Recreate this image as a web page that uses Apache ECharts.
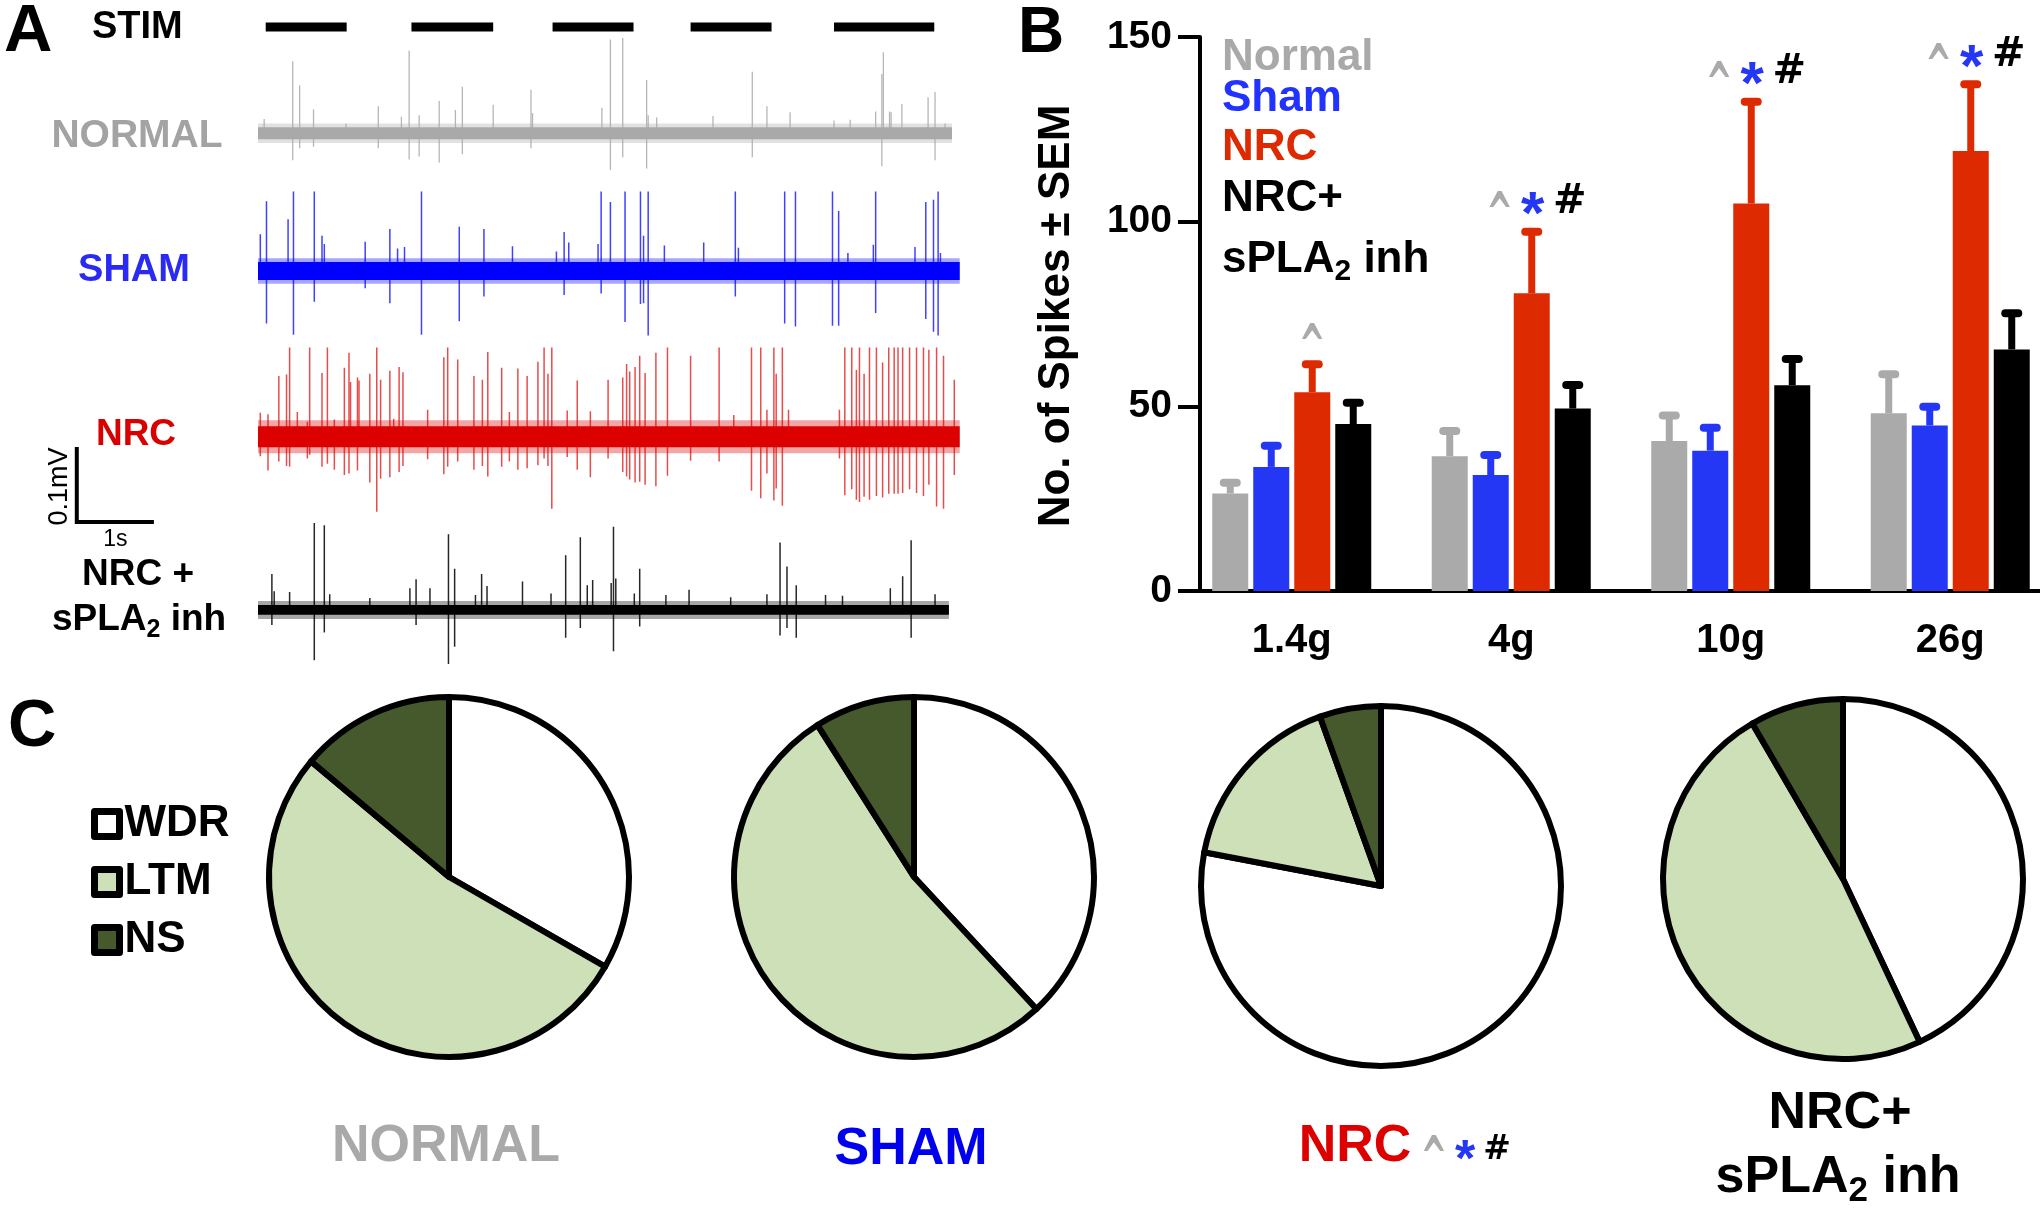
<!DOCTYPE html>
<html><head><meta charset="utf-8">
<script src="https://cdn.jsdelivr.net/npm/echarts@6/dist/echarts.min.js"></script>
<style>html,body{margin:0;padding:0;background:#fff}#c{width:2040px;height:1219px}</style>
</head><body><div id="c"></div>
<script>
const FONT = '"Liberation Sans", Arial, Helvetica, sans-serif';
const SYMFONT = '"DejaVu Sans", "Liberation Sans", sans-serif';

// ---------- Panel A: extracellular recordings (time in s, amplitude in µV) ----------
const stimOn = [[0.10, 1.15], [1.99, 3.05], [3.82, 4.87], [5.61, 6.66], [7.47, 8.77]];
const traceNames = ['NORMAL', 'SHAM', 'NRC', 'NRC +'];
const traceDuration = [9.0, 9.1, 9.1, 8.96];
const noiseNormal = [8, 13];
const noiseSham = [12, 17];
const noiseNRC = [14, 22];
const noiseNRCinh = [6.5, 12];
// spikes: [time s, upward peak µV, downward peak µV]
const spikesNormal = [[0.08,19,0],[0.45,96,36],[0.54,64,20],[0.72,32,18],[1.14,13,0],[1.56,36,20],[1.86,22,0],[1.96,110,35],[2.09,24,31],[2.35,43,39],[2.56,31,0],[2.65,62,28],[3.05,38,0],[3.54,58,20],[3.56,27,0],[4.46,34,0],[4.57,125,49],[4.73,127,32],[5.04,71,47],[5.06,24,0],[5.17,21,0],[5.90,23,0],[6.41,82,32],[6.60,36,0],[6.90,28,0],[7.47,17,0],[7.68,18,0],[8.01,29,0],[8.09,79,44],[8.11,108,0],[8.19,29,0],[8.21,28,0],[8.35,39,0],[8.69,48,0],[8.78,55,36],[8.91,13,0]];
const spikesSham = [[0.03,49,0],[0.11,93,70],[0.39,69,0],[0.46,106,85],[0.73,106,41],[0.83,47,0],[0.86,36,0],[1.39,39,23],[1.71,56,43],[1.81,30,0],[1.90,32,0],[2.12,106,85],[2.61,59,67],[2.93,56,34],[3.30,33,0],[3.87,26,0],[3.97,52,32],[4.03,38,0],[4.41,36,0],[4.45,106,30],[4.57,92,0],[4.76,106,68],[4.96,106,44],[5.00,47,43],[5.06,106,86],[5.27,34,0],[5.78,38,0],[6.19,106,34],[6.23,31,0],[6.83,106,70],[6.97,106,74],[7.45,106,73],[7.53,80,73],[7.65,24,0],[7.98,35,0],[8.01,106,56],[8.52,32,0],[8.66,92,64],[8.76,95,81],[8.82,106,86],[8.85,24,0]];
const spikesNRC = [[0.03,32,26],[0.13,30,45],[0.27,81,33],[0.37,83,39],[0.41,119,40],[0.51,33,0],[0.64,20,29],[0.67,119,24],[0.83,85,40],[0.90,119,36],[0.99,23,44],[1.12,92,51],[1.18,112,49],[1.20,73,0],[1.29,79,45],[1.31,75,0],[1.45,84,61],[1.54,119,100],[1.59,76,56],[1.71,88,54],[1.76,24,0],[1.83,93,47],[1.88,86,39],[2.20,36,30],[2.41,106,50],[2.46,119,40],[2.59,103,33],[2.80,81,44],[2.91,76,39],[2.98,113,53],[3.16,92,40],[3.26,33,33],[3.37,91,44],[3.49,81,42],[3.63,100,38],[3.71,119,29],[3.76,84,39],[3.81,119,96],[4.01,35,27],[4.14,75,44],[4.31,34,54],[4.54,76,29],[4.73,79,47],[4.78,97,53],[4.82,87,57],[4.89,93,61],[4.95,108,60],[5.02,85,64],[5.16,112,66],[5.31,119,52],[5.61,108,32],[5.98,119,33],[6.17,29,0],[6.40,119,72],[6.52,119,82],[6.60,36,49],[6.69,119,85],[6.72,84,69],[6.80,119,92],[6.88,36,0],[7.54,36,29],[7.61,119,78],[7.70,119,70],[7.76,89,84],[7.80,119,87],[7.86,84,80],[7.93,119,84],[8.02,119,79],[8.10,99,81],[8.18,119,76],[8.25,119,76],[8.30,119,76],[8.36,119,75],[8.45,119,70],[8.54,119,75],[8.63,119,79],[8.70,116,64],[8.80,119,93],[8.89,108,96],[9.03,76,51]];
const spikesNRCinh = [[0.18,48,20],[0.21,25,0],[0.41,24,0],[0.73,116,67],[0.86,113,30],[0.93,21,0],[1.45,16,0],[1.97,29,0],[2.05,41,20],[2.23,29,0],[2.47,101,72],[2.55,55,49],[2.82,20,0],[2.90,48,0],[2.97,32,0],[3.43,38,0],[3.80,22,0],[3.99,73,37],[4.18,97,24],[4.27,33,0],[4.34,40,0],[4.58,36,0],[4.61,111,55],[4.64,42,0],[4.88,22,0],[4.95,55,22],[5.29,20,0],[5.59,27,0],[6.13,17,0],[6.60,21,0],[6.77,90,34],[6.86,58,24],[6.98,33,37],[7.36,20,0],[7.58,19,0],[8.20,29,0],[8.36,45,0],[8.47,93,37],[8.78,21,0]];
const scaleBarLen = [1, 100]; // 1 s, 100 µV (0.1 mV)
const scaleBarLabels = ['1s', '0.1mV'];

// ---------- Panel B: spikes per stimulus ----------
const forces = ['1.4g', '4g', '10g', '26g'];
const groupNames = ['Normal', 'Sham', 'NRC', 'NRC+'];
const meanNormal = [26.4, 36.5, 40.6, 48.1];
const semNormal = [2.9, 6.8, 6.9, 10.6];
const meanSham = [33.6, 31.4, 38.0, 44.8];
const semSham = [5.7, 5.4, 6.2, 5.1];
const meanNRC = [53.8, 80.6, 104.9, 119.1];
const semNRC = [7.6, 16.7, 27.6, 18.1];
const meanNRCinh = [45.2, 49.4, 55.7, 65.4];
const semNRCinh = [5.8, 6.4, 7.1, 9.8];
const sigMarks = [['^'], ['^', '*', '#'], ['^', '*', '#'], ['^', '*', '#']];

// ---------- Panel C: neuron classification (%) ----------
const cellTypes = ['WDR', 'LTM', 'NS'];
const pieNormal = [33.3, 52.8, 13.9];
const pieSham = [38.1, 52.9, 9.0];
const pieNRC = [78.0, 16.5, 5.5];
const pieNRCinh = [43.0, 48.6, 8.4];

// ---------- styling ----------
const GRAY = '#aaaaaa', BLUE = '#2437f5', RED = '#dd2a00';
const barColors = [GRAY, BLUE, RED, '#000000'];
const traceColors = ['#a9a9a9', '#0000ff', '#dd0000', '#000000'];
const pieColors = ['#ffffff', '#cee0b8', '#46592d'];
const baselines = [-177.7, -361.3, -582.3, -813.3]; // vertical placement of traces (µV offsets)
const BAR_W = 36, BAR_GAP = 5;

function bandSeries(k, noise) {
  const off = baselines[k], col = traceColors[k];
  return {type: 'custom', xAxisIndex: 0, yAxisIndex: 0, silent: true, z: 2,
    data: [[0, traceDuration[k], noise[0], noise[1]]],
    renderItem(p, api) {
      const t0 = api.value(0), t1 = api.value(1), n1 = api.value(2), n2 = api.value(3);
      const a = api.coord([t0, off + n2]), b = api.coord([t1, off - n2]);
      const c = api.coord([t0, off + n1]), d = api.coord([t1, off - n1]);
      return {type: 'group', children: [
        {type: 'rect', shape: {x: a[0], y: a[1], width: b[0] - a[0], height: b[1] - a[1]}, style: {fill: col, opacity: 0.35}},
        {type: 'rect', shape: {x: c[0], y: c[1], width: d[0] - c[0], height: d[1] - c[1]}, style: {fill: col}}
      ]};
    }};
}
function spikeSeries(k, spikes, lw, op) {
  const off = baselines[k], col = traceColors[k];
  return {type: 'custom', xAxisIndex: 0, yAxisIndex: 0, silent: true, z: 3,
    data: spikes,
    renderItem(p, api) {
      const t = api.value(0), up = api.value(1), dn = api.value(2);
      const p1 = api.coord([t, off + up]), p2 = api.coord([t, off - dn]);
      return {type: 'line', shape: {x1: p1[0], y1: p1[1], x2: p2[0], y2: p2[1]}, style: {stroke: col, lineWidth: lw, opacity: op}};
    }};
}
const stimSeries = {type: 'custom', xAxisIndex: 0, yAxisIndex: 0, silent: true, z: 3,
  data: stimOn,
  renderItem(p, api) {
    const a = api.coord([api.value(0), -36]), b = api.coord([api.value(1), -36]);
    return {type: 'rect', shape: {x: a[0], y: a[1] - 4.5, width: b[0] - a[0], height: 9}, style: {fill: '#000'}};
  }};
const scaleSeries = {type: 'custom', xAxisIndex: 0, yAxisIndex: 0, silent: true, z: 3,
  data: [[-2.35, -696, scaleBarLen[0], scaleBarLen[1]]],
  renderItem(p, api) {
    const t0 = api.value(0), v0 = api.value(1), dt = api.value(2), dv = api.value(3);
    const o = api.coord([t0, v0]), top = api.coord([t0, v0 + dv]), r = api.coord([t0 + dt, v0]);
    return {type: 'group', children: [
      {type: 'polyline', shape: {points: [top, o, r]}, style: {stroke: '#000', lineWidth: 4, fill: null}},
      {type: 'text', x: (o[0] + r[0]) / 2, y: o[1] + 18, style: {text: scaleBarLabels[0], fontSize: 23, fontFamily: FONT, fill: '#000', align: 'center', verticalAlign: 'middle'}},
      {type: 'text', x: o[0] - 17, y: (o[1] + top[1]) / 2 + 2, rotation: Math.PI / 2, style: {text: scaleBarLabels[1], fontSize: 27, fontFamily: FONT, fill: '#000', align: 'center', verticalAlign: 'middle'}}
    ]};
  }};

// Panel B series
const means = [meanNormal, meanSham, meanNRC, meanNRCinh];
const sems = [semNormal, semSham, semNRC, semNRCinh];
const barSeries = means.map((m, si) => ({
  type: 'bar', name: groupNames[si], xAxisIndex: 1, yAxisIndex: 1, data: m, silent: true, z: 3,
  barWidth: BAR_W, barGap: (BAR_GAP / BAR_W * 100).toFixed(1) + '%', itemStyle: {color: barColors[si]}
}));
const errSeries = means.map((m, si) => ({
  type: 'custom', xAxisIndex: 1, yAxisIndex: 1, silent: true, z: 4,
  data: m.map((v, i) => [i, v, v + sems[si][i]]),
  renderItem(p, api) {
    const i = api.value(0);
    const base = api.coord([i, api.value(1)]), top = api.coord([i, api.value(2)]);
    const x = base[0] + (si - 1.5) * (BAR_W + BAR_GAP);
    const col = barColors[si];
    return {type: 'group', children: [
      {type: 'line', shape: {x1: x, y1: base[1], x2: x, y2: top[1]}, style: {stroke: col, lineWidth: 7}},
      {type: 'line', shape: {x1: x - 6.5, y1: top[1], x2: x + 6.5, y2: top[1]}, style: {stroke: col, lineWidth: 8, lineCap: 'round'}}
    ]};
  }}));
const markStyle = {
  '^': {fill: GRAY, size: 40, dy: 16, font: SYMFONT, sx: 0.8, sy: 1.45},
  '*': {fill: BLUE, size: 60, dy: 14, font: FONT, sx: 1, sy: 1},
  '#': {fill: '#000', size: 40, dy: 0, font: SYMFONT, sx: 1, sy: 1}
};
const sigSeries = {type: 'custom', xAxisIndex: 1, yAxisIndex: 1, silent: true, z: 5,
  data: meanNRC.map((v, i) => [i, v + semNRC[i]]),
  renderItem(p, api) {
    const i = api.value(0);
    const top = api.coord([i, api.value(1)]);
    const x = top[0] + 0.5 * (BAR_W + BAR_GAP);
    const marks = sigMarks[i];
    const dxs = marks.length === 1 ? [0] : [-32, 1, 38];
    return {type: 'group', children: marks.map((m, j) => ({
      type: 'text', x: x + dxs[j], y: top[1] - 29 + markStyle[m].dy, scaleX: markStyle[m].sx, scaleY: markStyle[m].sy,
      style: {text: m, fontSize: markStyle[m].size, fontWeight: 'bold', fontFamily: markStyle[m].font, fill: markStyle[m].fill, align: 'center', verticalAlign: 'middle'}
    }))};
  }};

// Panel C pies
const pieData = [pieNormal, pieSham, pieNRC, pieNRCinh];
const pieCenters = [[449, 877], [914, 877], [1381, 886], [1843, 879]];
const pieSeries = pieData.map((d, k) => ({
  type: 'pie', center: pieCenters[k], radius: 180, startAngle: 90, clockwise: true, silent: true,
  label: {show: false}, labelLine: {show: false}, emphasis: {disabled: true},
  itemStyle: {borderColor: '#000', borderWidth: 6},
  data: cellTypes.map((n, i) => ({name: n, value: d[i], itemStyle: {color: pieColors[i]}}))
}));

// ---------- text ----------
function T(text, x, y, size, fill, align, extra, font) {
  return Object.assign({type: 'text', x: x, y: y, silent: true, z: 10,
    style: {text: text, fontSize: size, fontWeight: 'bold', fontFamily: font || FONT, fill: fill, align: align || 'center', verticalAlign: 'middle'}}, extra || {});
}
function sub(textA, sub2, textB, x, y, size, fill, align) {
  return {type: 'text', x: x, y: y, silent: true, z: 10,
    style: {text: '{a|' + textA + '}{b|' + sub2 + '}{a|' + textB + '}', align: align || 'center', verticalAlign: 'middle',
      rich: {
        a: {fontSize: size, fontWeight: 'bold', fontFamily: FONT, fill: fill, verticalAlign: 'bottom', padding: [0, 0, 5, 0]},
        b: {fontSize: Math.round(size * 0.68), fontWeight: 'bold', fontFamily: FONT, fill: fill, verticalAlign: 'bottom'}
      }}};
}
const graphics = [
  T('A', 4, 33, 67, '#000', 'left'),
  T('STIM', 92, 28, 38, '#000', 'left'),
  T(traceNames[0], 137, 136, 39, '#a3a3a3'),
  T(traceNames[1], 134, 271, 38, '#2a2af2'),
  T(traceNames[2], 136, 435, 37, '#d80000'),
  T(traceNames[3], 138, 575, 37, '#000'),
  sub('sPLA', '2', ' inh', 139, 622, 37, '#000'),
  T('B', 1018, 34, 64, '#000', 'left'),
  T('No. of Spikes ± SEM', 1057, 316, 44, '#000', 'center', {rotation: Math.PI / 2}),
  T('Normal', 1222, 58, 44, '#a9a9a9', 'left'),
  T('Sham', 1222, 99, 44, '#2233ff', 'left'),
  T('NRC', 1222, 148, 44, RED, 'left'),
  T('NRC+', 1222, 199, 44, '#000', 'left'),
  sub('sPLA', '2', ' inh', 1222, 262, 44, '#000', 'left'),
  T('C', 8, 728, 67, '#000', 'left'),
  T('NORMAL', 446, 1147, 52, '#a9a9a9'),
  T('SHAM', 911, 1150, 52, '#0000ee'),
  T('NRC', 1355, 1147, 52, '#dd0000'),
  T('^', 1434, 1163, 40, GRAY, 'center', {scaleX: 0.8, scaleY: 1.45}, SYMFONT),
  T('*', 1465, 1162, 52, BLUE),
  T('#', 1497, 1150, 33, '#000', 'center', null, SYMFONT),
  T('NRC+', 1840, 1114, 52, '#000'),
  sub('sPLA', '2', ' inh', 1838, 1180, 52, '#000')
];

const option = {
  animation: false,
  backgroundColor: '#ffffff',
  grid: [
    {left: 258, top: 0, width: 694, height: 700, containLabel: false, outerBoundsMode: 'none'},
    {left: 1182, top: 37, width: 878, height: 554, containLabel: false, outerBoundsMode: 'none'}
  ],
  xAxis: [
    {gridIndex: 0, type: 'value', min: 0, max: 9, show: false},
    {gridIndex: 1, type: 'category', data: forces, boundaryGap: true,
      axisLine: {show: true, lineStyle: {color: '#000', width: 4}}, axisTick: {show: false},
      axisLabel: {interval: 0, margin: 30, fontSize: 40, fontWeight: 'bold', color: '#000', fontFamily: FONT}}
  ],
  yAxis: [
    {gridIndex: 0, type: 'value', min: -933.33, max: 0, show: false},
    {gridIndex: 1, type: 'value', min: 0, max: 150, interval: 50, offset: -18,
      axisLine: {show: true, lineStyle: {color: '#000', width: 4}},
      axisTick: {show: true, length: 22, lineStyle: {color: '#000', width: 4}},
      axisLabel: {margin: 28, fontSize: 39, fontWeight: 'bold', color: '#000', fontFamily: FONT},
      splitLine: {show: false}}
  ],
  legend: {
    data: cellTypes, orient: 'vertical', left: 91, top: 799, padding: 0,
    itemWidth: 25, itemHeight: 25, itemGap: 8, icon: 'rect', selectedMode: false,
    itemStyle: {borderColor: '#000', borderWidth: 7},
    textStyle: {fontSize: 44, fontWeight: 'bold', color: '#000', fontFamily: FONT, lineHeight: 50, padding: [0, 0, 0, 0]}
  },
  graphic: {elements: graphics},
  series: [
    bandSeries(0, noiseNormal), bandSeries(1, noiseSham), bandSeries(2, noiseNRC), bandSeries(3, noiseNRCinh),
    spikeSeries(0, spikesNormal, 1.3, 0.85), spikeSeries(1, spikesSham, 1.5, 0.75),
    spikeSeries(2, spikesNRC, 1.5, 0.7), spikeSeries(3, spikesNRCinh, 1.5, 0.85),
    stimSeries, scaleSeries
  ].concat(barSeries, errSeries, [sigSeries], pieSeries)
};
const chart = echarts.init(document.getElementById('c'));
chart.setOption(option);
</script></body></html>
